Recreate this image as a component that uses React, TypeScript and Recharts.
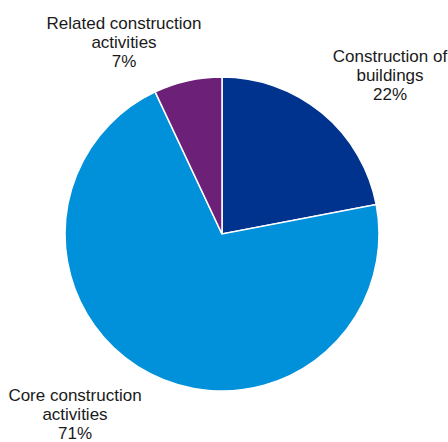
import React from "react";
import { Cell, Pie, PieChart } from "recharts";

// Construction sector split — shares of turnover (%)
const segmentos = ["Construction of buildings", "Core construction activities", "Related construction activities"];
const rotulos = [["Construction of", "buildings"], ["Core construction", "activities"], ["Related construction", "activities"]];
const valores = [22, 71, 7];
const cores = ["#00338D", "#0091DA", "#6D2077"];

// where each label block sits, relative to the pie centre (first line baseline)
const deslocRotulo: Record<string, [number, number]> = {
  "Construction of buildings": [168, -172],
  "Core construction activities": [-147, 167],
  "Related construction activities": [-98, -205],
};

const dados = segmentos.map((nome, i) => ({ nome, valor: valores[i], linhas: rotulos[i] }));

const FONTE = "'Liberation Sans', Arial, sans-serif";

function Rotulo(props: any) {
  const { cx, cy, payload, percent } = props;
  const [dx, dy] = deslocRotulo[payload.nome];
  const x = cx + dx;
  const y = cy + dy;
  const linhas = [...payload.linhas, `${Math.round(percent * 100)}%`];
  return (
    <text x={x} y={y} textAnchor="middle" fill="#1a1a1a" fontSize={17} fontFamily={FONTE}>
      {linhas.map((l, i) => (
        <tspan key={i} x={x} dy={i === 0 ? 0 : 18.8}>{l}</tspan>
      ))}
    </text>
  );
}

export default function App() {
  if (typeof document !== "undefined") document.body.style.margin = "0";
  return (
    <div style={{ position: "absolute", left: 0, top: 0, width: 448, height: 442, background: "#fff" }}>
      <PieChart width={448} height={442} margin={{ top: 0, right: 0, bottom: 0, left: 0 }} style={{ overflow: "visible" }}>
        <Pie
          data={dados}
          dataKey="valor"
          nameKey="nome"
          cx={222}
          cy={234}
          outerRadius={157}
          startAngle={90}
          endAngle={-270}
          stroke="#fff"
          strokeWidth={1.5}
          label={Rotulo}
          labelLine={false}
          isAnimationActive={false}
        >
          {dados.map((d, i) => (
            <Cell key={d.nome} fill={cores[i]} />
          ))}
        </Pie>
      </PieChart>
    </div>
  );
}
